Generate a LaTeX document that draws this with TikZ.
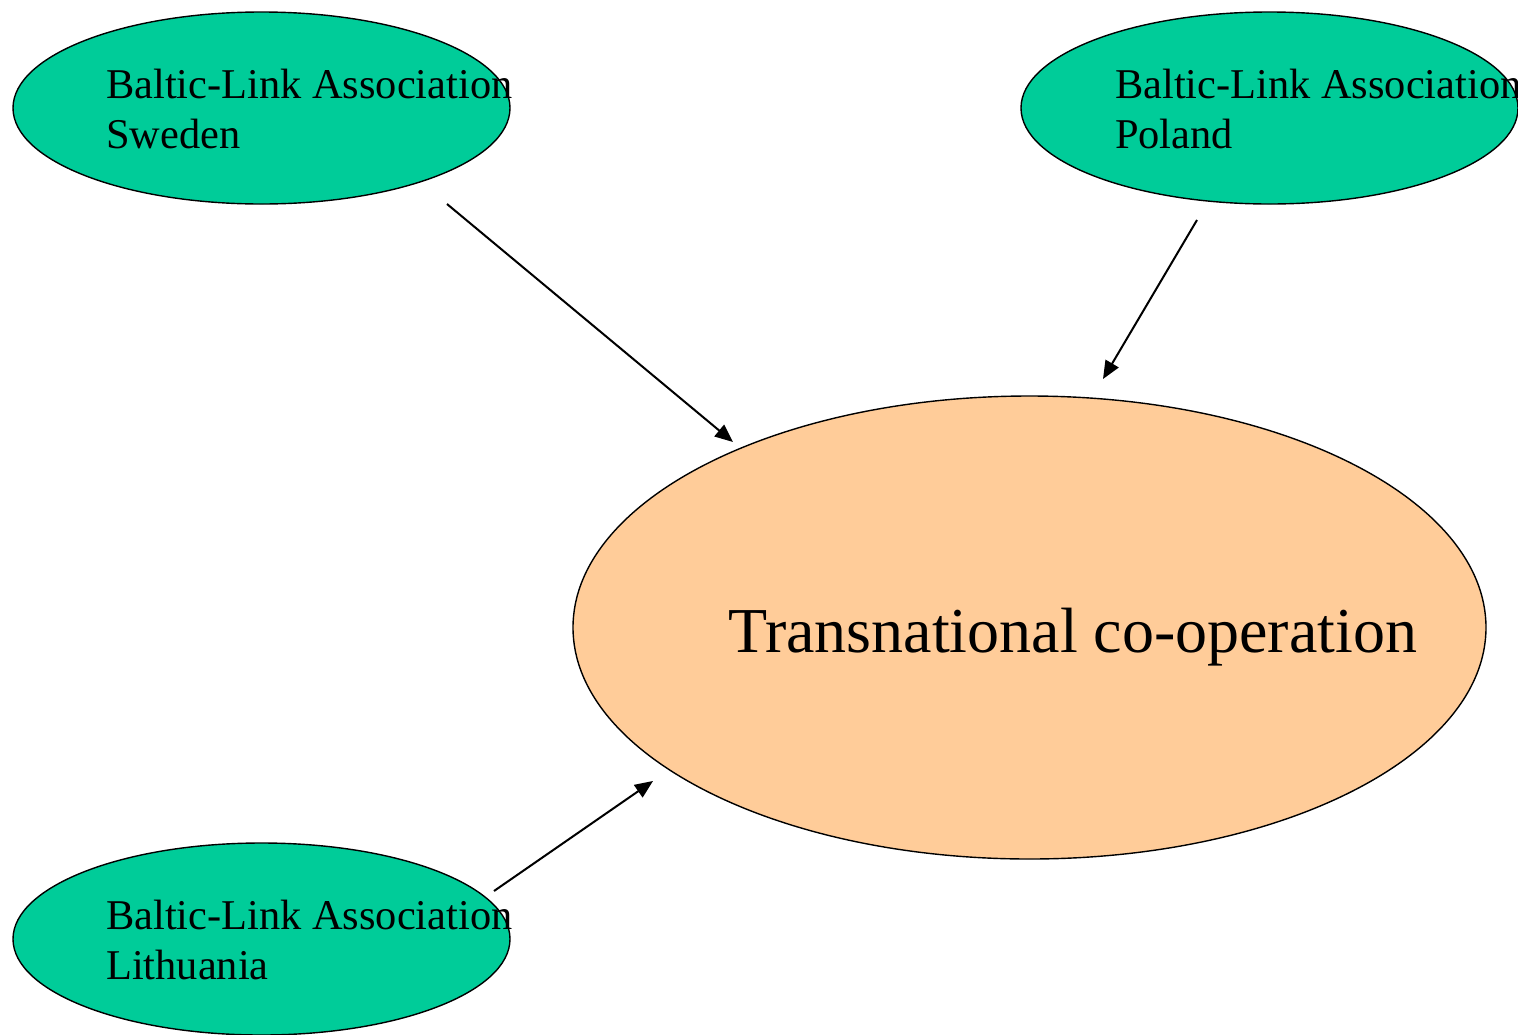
\documentclass[tikz,border=0pt]{standalone}
\usepackage{fontspec}
\setmainfont{Liberation Serif}
\usetikzlibrary{shapes.geometric,arrows.meta}
\definecolor{assocgreen}{HTML}{00CC99}
\definecolor{coopbeige}{HTML}{FFCC99}
\tikzset{
  assoc/.style={ellipse,draw=black,line width=1.4pt,fill=assocgreen,inner sep=0pt,minimum width=497pt,minimum height=192pt},
  coop/.style={ellipse,draw=black,line width=1.4pt,fill=coopbeige,inner sep=0pt,minimum width=913pt,minimum height=463pt},
  assoclabel/.style={anchor=base west,inner sep=0pt,align=left,font=\fontsize{42.4}{50}\selectfont},
  cooplabel/.style={anchor=base west,inner sep=0pt,font=\fontsize{64}{70}\selectfont},
  link/.style={line width=2pt,-{Triangle[length=18pt,width=15pt]}}
}
\begin{document}
\begin{tikzpicture}[x=1pt,y=-1pt]
\useasboundingbox (0,0) rectangle (1518,1034);
\node[assoc] (swe) at (261.5,108) {};
\node[assoc] (pol) at (1269.5,108) {};
\node[assoc] (lit) at (261.5,939) {};
\node[coop] (coop) at (1029.5,627.5) {};
\node[assoclabel] (swet) at (106,148) {Baltic-Link Association\\Sweden};
\node[assoclabel] (polt) at (1115,148) {Baltic-Link Association\\Poland};
\node[assoclabel] (litt) at (106,979) {Baltic-Link Association\\Lithuania};
\node[cooplabel] (coopt) at (728,652) {Transnational co-operation};
\coordinate (sweS) at (447,204);
\coordinate (sweE) at (733,442);
\coordinate (polS) at (1197,220);
\coordinate (polE) at (1103,379);
\coordinate (litS) at (494,891);
\coordinate (litE) at (653,781);
\draw[link] (sweS) -- (sweE);
\draw[link] (polS) -- (polE);
\draw[link] (litS) -- (litE);
\end{tikzpicture}
\end{document}
